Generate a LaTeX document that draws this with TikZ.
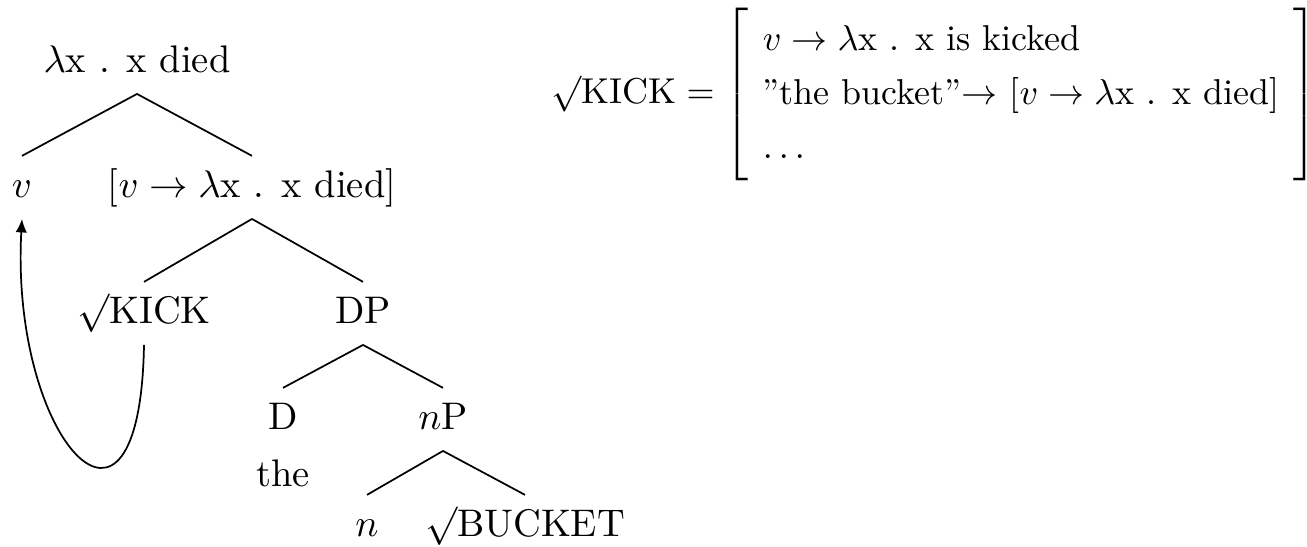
\documentclass[tikz,border=0pt]{standalone}
\usepackage{amsmath,amssymb}
\usepackage{tikz}
\usetikzlibrary{arrows.meta}

\begin{document}
\begin{tikzpicture}[x=0.26pt,y=-0.26pt,
  lbl/.style={anchor=base,inner xsep=0pt,inner ysep=3pt,
              text height=7.5pt,text depth=2.5pt},
  branch/.style={draw,line width=0.45pt},
  movearrow/.style={draw,line width=0.45pt,-{Latex[length=3.5pt,width=3pt]}}]
\useasboundingbox (0,0) rectangle (1307,546);
\node[lbl] (top) at (137,72) {$\lambda$x . x died};
\node[lbl] (v) at (22,197) {$v$};
\node[lbl] (vdied) at (252,197) {[$v \rightarrow \lambda$x . x died]};
\node[lbl] (kick) at (144,323) {$\surd$KICK};
\node[lbl] (dp) at (363,323) {DP};
\node[lbl] (d) at (283,429) {D};
\node[lbl] (the) at (283,486) {the};
\node[lbl] (np) at (443,429) {$n$P};
\node[lbl] (n) at (367,536) {$n$};
\node[lbl] (bucket) at (525,536) {$\surd$BUCKET};
\draw[branch] (top.south) -- (v.north);
\draw[branch] (top.south) -- (vdied.north);
\draw[branch] (vdied.south) -- (kick.north);
\draw[branch] (vdied.south) -- (dp.north);
\draw[branch] (dp.south) -- (d.north);
\draw[branch] (dp.south) -- (np.north);
\draw[branch] (np.south) -- (n.north);
\draw[branch] (np.south) -- (bucket.north);
\draw[movearrow] (kick.south) .. controls +(-4,236) and +(-12,222) .. (v.south);
\node[anchor=west,inner sep=0pt,scale=0.935] (kickrule) at (551,94)
  {\renewcommand{\arraystretch}{1.25}\setlength{\tabcolsep}{4pt}\delimitershortfall=-3pt%
   $\surd\text{KICK} = \left[\begin{tabular}{l}
     $v \rightarrow \lambda$x . x is kicked\\
     \textquotedblright the bucket\textquotedblright$\rightarrow$ [$v \rightarrow \lambda$x . x died]\\
     $\ldots$
   \end{tabular}\right]$};
\end{tikzpicture}
\end{document}
